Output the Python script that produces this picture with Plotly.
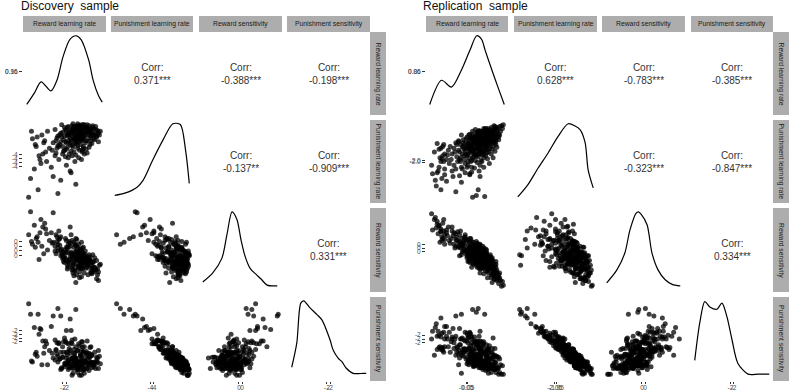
import plotly.graph_objects as go

W, H = 790, 392

variables = ["Reward learning rate", "Punishment learning rate",
             "Reward sensitivity", "Punishment sensitivity"]

# ---------------- Discovery sample ----------------
disc_rlr = [-3.8, -3.5, -3.3, -3.2, -3.6, -3.1, -3.4, -3.0, -3.7, -3.25,
            -2.9, -3.35, -3.9, -3.05, -2.8, -1.4, -1.2, -0.8, -1.7, -2.1,
            -1.0, -1.5, -0.5, -1.3, -1.9, -1.1, -1.6, -0.9, -2.4, -1.35,
            -1.25, -0.7, -1.8, -1.45, -0.3, -2.2, -1.05, -1.55, -0.95, -1.65,
            -1.15, -2.6, -0.6, -1.3, -1.75, -0.85, -1.4, -2.0, -1.2, -0.4,
            -1.5, -1.1, -1.85, -0.75, -1.35, -2.3, -1.0, -1.6, -0.65, -1.25,
            -1.95, -1.45, -0.55, -1.7, -1.15, -2.5, -0.2, -1.3, -1.55, -0.9,
            -2.6, -2.05, -1.05, -0.8, -1.6, -1.2, -1.9, -0.45, -1.35, -2.15,
            -1.0, -1.5, -0.7, -1.75, -1.25, -2.7, -1.1, -0.35, -1.45, -1.65,
            -0.95, -2.25, -2.35, -0.6, -1.55, -1.85, -0.85, -1.2, -2.45, -1.0,
            -1.4, -0.5, -1.7, -1.15, -2.0, -0.25, -1.35, -0.75, -1.6, -1.05,
            -1.9, -0.65, -2.2, -1.25, -2.35, -0.9, -1.45, -1.1, -0.15, -1.8,
            -1.3, -0.6, -1.85, -1.0, -2.25, -0.35, -1.5, -1.15, -2.05, -0.8,
            -1.7, -0.45, -1.4, -2.4, -0.95, -1.25, -1.95, -0.7, -1.55, -1.1,
            -2.15, -0.55, -1.35, -1.8, -0.25, -1.6, -1.05, -2.3, -0.85, -1.45,
            -3.45, -3.15, -3.55, -2.95, -3.75, -1.2, -0.65, -1.75, -1.05, -2.5,
            -0.4, -1.3, -1.9, -0.75, -1.5, -2.1, -0.95, -1.65, -0.2, -1.4,
            -2.2, -0.5, -1.15, -1.8, -1.0, -2.65, -0.3, -1.55, -1.25, -2.0,
            -0.7, -1.45, -2.35, -0.9, -1.6, -1.1, -0.55, -1.95, -1.3, -0.8,
            -1.7, -2.45, -0.45, -1.2, -1.85, -1.0, -0.1, -1.35, -2.1, -0.6]
disc_plr = [-4.9, -3.2, -3.9, -2.6, -4.4, -3.0, -5.5, -3.5, -2.8, -4.1,
            -2.4, -3.7, -5.9, -2.9, -3.3, -2.8, -2.5, -2.3, -3.1, -3.6,
            -2.2, -2.9, -2.6, -2.4, -4.2, -2.7, -2.1, -3.0, -3.3, -2.6,
            -3.8, -2.45, -2.9, -2.2, -2.7, -2.5, -3.4, -2.35, -2.05, -4.6,
            -2.75, -3.0, -2.3, -3.15, -2.6, -2.9, -5.2, -2.65, -2.1, -2.55,
            -3.5, -2.85, -3.25, -2.4, -2.15, -3.9, -2.7, -2.5, -3.1, -2.95,
            -2.3, -4.0, -2.2, -2.75, -2.55, -3.7, -2.45, -3.3, -2.0, -2.65,
            -4.8, -2.85, -2.3, -3.55, -2.6, -2.15, -3.0, -2.8, -2.4, -2.7,
            -3.2, -2.5, -2.1, -3.6, -2.65, -4.3, -2.9, -2.3, -2.75, -3.45,
            -2.5, -3.1, -5.7, -2.65, -2.25, -2.55, -3.35, -2.35, -2.9, -2.05,
            -3.05, -2.45, -4.5, -2.6, -3.4, -2.55, -2.95, -2.25, -3.7, -2.8,
            -2.4, -2.75, -5.0, -2.2, -3.15, -2.5, -2.7, -3.9, -2.6, -2.15,
            -2.35, -2.9, -2.2, -3.3, -2.6, -2.15, -2.8, -2.45, -3.45, -2.05,
            -3.0, -2.6, -2.25, -2.75, -3.6, -2.1, -2.95, -2.5, -3.25, -2.35,
            -2.05, -3.05, -2.7, -3.8, -2.35, -2.3, -2.8, -3.2, -2.2, -3.05,
            -2.7, -3.6, -3.1, -4.0, -2.4, -2.6, -2.4, -2.45, -3.5, -2.3,
            -2.85, -2.0, -3.35, -2.6, -2.15, -2.45, -2.3, -2.85, -2.95, -3.65,
            -2.95, -2.1, -3.1, -2.55, -2.45, -3.4, -2.65, -2.4, -2.85, -2.2,
            -3.25, -2.55, -2.65, -2.2, -3.15, -2.05, -2.55, -3.75, -2.75, -2.9,
            -2.35, -3.55, -2.25, -3.4, -2.65, -2.7, -2.4, -2.1, -3.2, -2.35]
disc_rs = [2.0, 0.6, 0.9, 0.2, 1.3, -0.2, 0.4, 1.1, 0.3, 1.6,
           0.0, -0.5, 0.8, 1.4, 0.5, -0.1, -0.6, -0.9, 0.2, -0.3,
           -0.7, -0.4, -1.1, 0.1, 0.5, -0.8, -0.2, -0.5, 0.7, -1.3,
           -0.3, -0.6, -0.9, 0.3, -1.5, 0.0, -0.4, -1.0, -0.2, 0.8,
           -0.7, 0.4, -1.2, -0.1, -0.5, -0.95, 0.6, -0.35, -0.75, -0.4,
           0.15, -1.4, 0.1, -0.8, -0.55, 1.0, -0.25, -1.05, -0.6, -0.15,
           -0.45, -0.2, -1.25, 0.35, -0.65, 0.2, -1.6, -0.85, -0.3, -0.05,
           1.95, -0.6, -0.95, -0.35, 0.5, -1.15, -0.15, -0.9, -0.45, 0.05,
           -0.7, -1.35, -0.5, 0.45, -0.55, 0.9, -0.3, -1.0, -0.75, -0.1,
           -1.2, 0.6, 0.3, -0.6, -0.25, -0.8, -0.45, 0.0, -0.2, -0.85,
           -1.7, -0.25, 1.2, -0.4, -0.65, -1.3, 0.55, -0.7, -0.35, -1.0,
           0.15, -0.55, 0.7, -0.9, -0.05, -0.35, -1.1, 0.4, -0.8, -0.6,
           -0.45, -0.85, -0.1, -0.55, 0.25, -1.05, -0.65, 0.05, -0.4, -0.75,
           -0.3, -1.15, -0.05, 0.45, -0.5, -0.95, 0.0, -0.25, -1.2, -0.6,
           -0.2, -0.7, 0.2, 0.3, -1.0, -0.85, -0.15, 0.55, -0.4, -0.5,
           0.7, 1.2, 0.15, 0.85, 0.45, -1.45, -0.35, -0.7, 0.1, -0.05,
           -0.9, -0.25, -0.55, -1.3, 0.4, -0.45, -0.6, -0.2, -1.15, 0.25,
           -0.3, -0.65, -0.95, 0.15, -0.4, 0.35, -0.55, -0.8, 0.3, -0.15,
           -0.45, -1.05, 0.1, -0.3, -0.6, -0.05, -0.95, 0.6, -0.35, -0.7,
           -0.5, 0.8, -0.6, -0.2, -1.0, 0.15, -0.75, -0.4, -0.1, -1.1]
disc_ps = [-0.7, -2.7, -1.45, -3.35, -1.4, -2.75, -0.7, -2.1, -3.2, -1.5,
           -3.35, -1.75, -0.15, -2.4, -2.6, -3.0, -3.4, -3.25, -2.6, -2.4,
           -3.4, -3.0, -3.25, -3.75, -1.55, -2.6, -3.9, -3.15, -2.2, -3.3,
           -2.25, -3.4, -3.1, -3.25, -2.95, -3.6, -2.15, -3.55, -3.6, -1.55,
           -2.8, -3.0, -3.2, -2.6, -3.45, -2.65, -0.45, -3.3, -3.9, -2.7,
           -2.55, -2.95, -2.7, -3.0, -3.6, -2.25, -3.15, -3.0, -2.45, -3.2,
           -3.35, -2.0, -3.5, -3.3, -2.9, -2.05, -3.55, -2.6, -3.8, -2.9,
           -0.8, -2.7, -3.65, -2.1, -3.5, -3.35, -2.7, -3.25, -3.45, -3.5,
           -2.7, -2.95, -3.65, -2.5, -3.25, -1.35, -3.1, -3.3, -3.2, -2.2,
           -3.15, -3.05, -0.4, -2.8, -3.4, -3.3, -2.75, -3.45, -2.6, -3.55,
           -3.0, -3.3, -0.95, -3.35, -1.95, -3.2, -3.3, -3.3, -2.05, -3.2,
           -3.0, -2.95, -0.8, -3.45, -2.9, -3.15, -3.2, -2.15, -2.9, -3.6,
           -3.55, -2.4, -3.3, -2.65, -3.05, -3.55, -2.75, -3.6, -2.15, -3.55,
           -2.75, -3.45, -3.35, -2.8, -2.4, -3.4, -3.25, -2.95, -3.0, -3.15,
           -3.55, -2.85, -3.1, -2.25, -3.0, -3.4, -3.35, -2.2, -3.55, -2.75,
           -2.9, -2.1, -2.8, -2.25, -3.15, -3.2, -3.2, -3.5, -2.4, -3.1,
           -3.2, -3.6, -2.2, -3.35, -3.2, -2.95, -3.8, -3.05, -2.6, -2.4,
           -2.7, -3.35, -2.85, -3.15, -3.3, -2.75, -3.15, -3.05, -3.2, -3.45,
           -2.75, -2.95, -3.2, -3.15, -2.25, -3.9, -2.85, -2.1, -3.45, -2.75,
           -3.2, -2.55, -3.35, -2.35, -2.85, -3.2, -3.3, -3.35, -2.95, -3.25]

disc_corr = ["0.371***", "-0.388***", "-0.198***", "-0.137**", "-0.909***", "0.331***"]

# density curves (diagonal), relative height
disc_dens_rlr_x = [-4.0, -3.6, -3.24, -2.72, -2.4, -2.08, -1.72, -1.4, -1.12, -0.72, -0.48, -0.2, 0.0]
disc_dens_rlr_y = [0.09, 0.24, 0.39, 0.27, 0.41, 0.72, 0.95, 1.0, 0.95, 0.68, 0.41, 0.21, 0.12]
disc_dens_plr_x = [-6.0, -5.46, -4.8, -4.48, -3.96, -3.4, -2.88, -2.48, -2.2, -2.0]
disc_dens_plr_y = [0.05, 0.08, 0.16, 0.25, 0.52, 0.79, 1.0, 0.99, 0.65, 0.21]
disc_dens_rs_x = [-2.0, -1.47, -0.99, -0.72, -0.45, -0.19, 0.03, 0.24, 0.51, 0.83, 1.09, 1.41, 1.95]
disc_dens_rs_y = [0.08, 0.2, 0.39, 0.7, 1.0, 0.9, 0.63, 0.42, 0.26, 0.18, 0.12, 0.04, 0.03]
disc_dens_ps_x = [-3.95, -3.68, -3.47, -3.31, -2.99, -2.61, -2.35, -1.92, -1.76, -1.49, -1.28,
                  -1.07, -0.69, -0.16, 0.0]
disc_dens_ps_y = [0.13, 0.45, 0.97, 1.0, 0.91, 0.82, 0.75, 0.49, 0.36, 0.25, 0.2, 0.12, 0.05, 0.05, 0.05]

# ---------------- Replication sample ----------------
rep_rlr = [-1.4, -1.2, -1.6, -1.3, -1.5, -1.1, -1.75, -1.35, -1.0, -1.45,
           -1.9, -1.25, -1.55, -0.95, -1.3, -1.65, -1.2, -1.4, -0.85, -0.7,
           -0.6, -0.8, -0.55, -0.75, -0.65, -0.5, -0.9, -0.6, -0.45, -0.4,
           -0.35, -0.3, -0.25, -0.2, -0.15, -0.1, -0.05, -0.45, -0.35, -0.2,
           -0.1, -0.3, -0.05, -0.4, -0.15, -0.25, 0.0, 0.05, 0.1, 0.15,
           0.2, 0.25, 0.3, 0.35, 0.4, 0.0, 0.1, 0.2, 0.3, 0.05,
           0.15, 0.25, 0.35, 0.4, 0.1, 0.2, 0.3, 0.0, 0.25, 0.35,
           0.15, 0.05, 0.4, 0.45, 0.5, 0.55, 0.6, 0.65, 0.7, 0.75,
           0.8, 0.45, 0.5, 0.55, 0.6, 0.65, 0.7, 0.75, 0.8, 0.45,
           0.5, 0.55, 0.6, 0.65, 0.7, 0.75, 0.8, 0.5, 0.55, 0.6,
           0.65, 0.7, 0.75, 0.45, 0.6, 0.85, 0.9, 0.95, 1.0, 1.05,
           1.1, 1.15, 1.2, 0.85, 0.9, 0.95, 1.0, 1.05, 1.1, 1.15,
           1.2, 0.85, 0.9, 0.95, 1.0, 1.05, 1.1, 1.15, 1.2, 0.9,
           1.0, 1.1, 0.95, 1.25, 1.3, 1.35, 1.4, 1.45, 1.5, 1.55,
           1.6, 1.25, 1.3, 1.35, 1.4, 1.45, 1.5, 1.55, 1.6, 1.3,
           1.4, 1.5, 1.25, 1.45, 1.35, 1.65, 1.7, 1.75, 1.8, 1.85,
           1.7, 1.9, 1.95,
           0.55, 0.35, 0.9, -0.2, 1.15, 0.7, 0.15, 1.4, 0.6, -0.55,
           1.0, 0.25, 0.8, -0.1, 1.25, 0.45, 1.6, 0.05, 0.7, -0.7,
           0.95, 0.3, 1.1, 0.5, -0.3, 0.65, 1.35, 0.2, 0.85, 1.5,
           -1.5, -1.2, -1.7, -1.05, -1.4, 0.4, 0.75, 1.05, 0.1, 0.6,
           1.2, -0.4, 0.9, 0.35, 1.7, 0.55, -0.15, 0.8, 1.3, 0.0,
           0.65, 1.45, 0.25, -0.6, 1.0, 0.45, 1.55, 0.15, 0.7, 1.1,
           -0.25, 0.5, 0.95, 1.25, 0.3, 0.75, 1.6, -0.8, 0.6, 1.15,
           0.2, 0.85, 1.35, 0.4, 1.0, -0.05, 0.65, 1.5, 0.55, 1.2,
           -1.35, -1.6, -1.1, -1.85, -1.25, 0.9, 0.3, 1.4, 0.7, 0.1,
           1.05, 0.5, 1.75, 0.35, 0.8, -0.45, 1.3, 0.6, 0.95, 0.25,
           1.15, 0.45, 0.75, -0.35, 1.4, 0.55, 0.05, 1.0, 0.65, 1.2,
           0.85, 0.15, 1.55, 0.4, 0.9, -0.1, 1.1, 0.7, 1.3, 0.25]
rep_plr = [-2.0, -1.6, -2.6, -1.2, -2.3, -1.9, -1.5, -2.9, -1.4, -1.8,
           -2.2, -1.1, -2.5, -2.1, -1.7, -3.3, -2.7, -1.3, -1.9, -1.3,
           -2.4, -1.6, -1.1, -2.8, -1.5, -2.0, -1.2, -3.6, -1.4, -1.9,
           -1.1, -2.3, -1.6, -1.0, -1.7, -2.6, -1.3, -0.9, -1.8, -1.2,
           -2.1, -3.1, -0.8, -1.5, -1.35, -2.4, -1.2, -1.6, -0.9, -1.4,
           -2.0, -1.1, -0.7, -1.5, -1.0, -2.3, -1.3, -0.8, -1.8, -1.05,
           -2.7, -1.25, -0.95, -1.6, -0.6, -1.45, -3.9, -1.7, -0.75, -1.35,
           -1.15, -2.0, -0.85, -1.1, -0.7, -1.3, -0.9, -1.5, -0.6, -1.0,
           -1.2, -0.8, -1.7, -0.5, -1.15, -0.85, -1.4, -0.65, -0.95, -1.95,
           -0.75, -1.05, -0.4, -1.25, -0.9, -1.55, -0.55, -3.8, -0.95, -1.6,
           -0.7, -1.1, -0.8, -1.35, -3.5, -0.8, -1.1, -0.6, -1.3, -0.5,
           -0.9, -0.7, -1.0, -1.45, -0.45, -0.85, -0.65, -1.2, -0.35, -1.05,
           -0.55, -0.95, -1.6, -0.3, -0.9, -0.75, -1.35, -0.45, -0.8, -0.6,
           -1.05, -0.25, -3.85, -0.6, -0.9, -0.4, -0.75, -0.3, -1.0, -0.5,
           -0.2, -1.15, -0.45, -0.85, -0.35, -0.65, -0.15, -0.8, -0.4, -0.55,
           -1.2, -0.25, -0.7, -0.1, -0.95, -0.3, -0.55, -0.15, -0.4, -0.1,
           -0.7, -0.25, -0.05,
           -0.45, -1.75, -0.95, -0.85, -1.5, -2.2, -0.55, -1.0, -1.3, -1.75,
           -0.35, -2.55, -1.65, -1.45, -0.75, -0.3, -1.25, -2.2, -0.4, -2.2,
           -1.4, -0.55, -1.85, -1.0, -0.6, -2.5, -0.6, -1.55, -0.7, -0.55,
           -1.35, -2.4, -3.0, -1.65, -3.5, -1.2, -1.95, -0.9, -1.0, -0.65,
           -1.35, -2.75, -0.25, -0.9, -0.85, -2.05, -1.9, -0.5, -1.6, -0.7,
           -1.05, -0.9, -1.95, -1.0, -1.7, -0.65, -1.1, -1.35, -2.8, -0.45,
           -1.25, -1.5, -1.2, -0.3, -1.05, -0.8, -0.7, -2.5, -1.75, -1.15,
           -0.75, -1.45, -1.35, -2.35, -0.6, -1.6, -0.35, -1.45, -1.15, -2.1,
           -1.85, -1.05, -3.05, -2.65, -2.0, -2.3, -0.4, -0.5, -1.1, -1.8,
           -1.55, -0.85, -0.6, -1.4, -2.0, -0.95, -0.75, -0.5, -0.7, -2.3,
           -0.35, -1.65, -1.25, -2.0, -1.8, -0.95, -1.15, -0.25, -1.6, -0.95,
           -0.4, -2.65, -0.9, -0.7, -1.8, -1.05, -0.65, -1.4, -0.2, -1.3]
rep_rs = [1.1, 0.8, 1.5, 0.6, 1.3, 0.9, 1.6, 0.7, 1.2, 0.4,
          1.9, 1.0, 0.85, 0.5, 1.4, 1.15, 0.3, 0.95, 0.6, 0.9,
          0.2, 1.2, 0.5, 0.75, 0.1, 0.95, 0.35, 0.55, 0.4, 0.8,
          0.1, 0.6, -0.1, 0.45, 0.25, 0.7, -0.2, 0.15, 1.0, -0.05,
          0.5, 0.3, 0.0, -0.3, 0.65, 0.2, -0.1, 0.3, -0.4, 0.15,
          -0.2, 0.45, -0.5, -0.05, 0.2, 0.55, -0.3, 0.1, -0.15, -0.6,
          0.35, -0.35, 0.05, -0.45, -0.1, 0.6, -0.25, -0.4, -0.2, 0.25,
          -0.65, 0.0, -0.3, -0.4, -0.2, -0.6, 0.0, -0.35, -0.7, -0.15,
          -0.5, -0.1, -0.55, -0.25, -0.8, 0.15, -0.45, -0.9, -0.3, -0.05,
          -0.65, 0.25, -0.4, -0.2, -0.6, 0.0, -0.75, -0.3, -0.45, -0.1,
          -0.95, 0.3, -0.5, -0.7, 0.1, -0.6, -0.3, -0.9, -0.45, -0.7,
          -1.0, -0.35, -0.8, -0.2, -0.75, -0.5, -1.1, -0.25, -0.6, -1.2,
          -0.4, -0.95, -0.55, -0.3, -0.85, -0.15, -0.7, -1.05, -0.55, -0.4,
          0.05, -0.9, -0.8, -1.0, -0.7, -1.3, -0.85, -1.1, -1.4, -0.9,
          -1.2, -0.6, -1.45, -0.5, -1.0, -1.5, -0.8, -1.25, -1.6, -0.95,
          -1.15, -1.35, -0.35, -1.05, -1.7, -1.4, -1.75, -1.2, -1.6, -1.9,
          -1.5, -1.65, -1.85,
          -0.15, -0.55, -0.05, 0.35, -0.95, -0.35, 0.15, -1.2, 0.3, 0.65,
          -0.55, -0.05, -0.85, 0.8, -0.25, -0.6, -1.05, 0.1, -1.0, 0.3,
          -0.15, -0.7, -0.45, 0.45, -0.25, -0.55, -0.75, -0.4, 0.2, -1.55,
          1.25, 0.55, 1.7, 0.75, 1.0, -0.15, -0.7, 0.0, -0.55, -0.45,
          -0.35, 0.45, -1.25, 0.4, -1.3, -0.9, 0.05, -0.2, -0.5, -0.3,
          0.1, -0.95, -0.25, 0.85, -0.65, -0.1, -0.75, 0.6, 0.25, -1.45,
          0.2, -0.8, -0.35, -0.9, 0.3, -0.1, -1.15, 1.0, -0.3, -0.6,
          -0.15, -0.95, -0.4, 0.05, -0.15, 0.55, -0.65, -1.1, 0.35, -0.85,
          0.5, 1.35, 1.05, 1.05, 1.6, -0.6, -0.35, -0.6, -1.2, 0.5,
          -0.2, -0.25, -1.45, -0.75, 0.05, 0.2, -1.3, 0.15, -0.55, -0.9,
          -0.7, 0.2, -0.8, 0.35, -0.85, -0.5, -0.15, -0.3, -0.2, -1.0,
          -0.4, -0.3, -0.6, -0.45, 0.1, -0.05, -1.1, -0.5, -0.55, 0.0]
rep_ps = [-1.9, -2.4, -1.85, -2.6, -1.8, -1.85, -2.85, -1.7, -2.4, -2.4,
          -2.0, -2.7, -1.6, -1.65, -2.45, -1.2, -1.35, -2.55, -2.15, -2.5,
          -1.85, -2.0, -2.65, -1.45, -2.0, -2.45, -2.7, -0.8, -2.6, -2.3,
          -2.75, -2.0, -2.55, -2.7, -2.5, -1.65, -2.7, -3.35, -2.0, -2.65,
          -2.1, -0.7, -3.05, -3.0, -2.55, -1.95, -2.95, -1.95, -3.1, -2.8,
          -1.75, -2.95, -3.2, -2.55, -3.4, -1.7, -2.45, -2.9, -2.55, -3.2,
          -1.65, -2.7, -3.4, -2.1, -3.35, -2.65, -0.45, -2.1, -2.95, -2.85,
          -2.85, -2.2, -2.85, -3.05, -3.1, -2.3, -3.35, -2.4, -3.2, -3.4,
          -3.15, -3.0, -2.5, -3.25, -2.8, -3.35, -2.5, -3.0, -3.25, -2.15,
          -3.15, -3.2, -3.35, -3.15, -2.8, -2.6, -3.4, -0.6, -3.1, -2.15,
          -3.5, -2.55, -3.1, -2.9, -0.4, -3.25, -2.5, -3.25, -3.05, -3.25,
          -2.8, -3.4, -3.3, -2.35, -3.2, -3.35, -3.3, -2.95, -3.45, -2.55,
          -3.3, -3.25, -2.7, -3.4, -3.15, -2.85, -2.55, -3.8, -3.55, -3.2,
          -3.2, -3.55, -0.7, -3.3, -3.5, -3.4, -2.85, -3.6, -2.85, -3.75,
          -3.5, -3.0, -3.45, -3.45, -3.45, -2.9, -3.6, -3.4, -3.55, -3.75,
          -3.05, -3.55, -3.4, -3.55, -2.7, -3.55, -3.85, -3.75, -3.35, -3.85,
          -3.5, -3.4, -3.85,
          -3.3, -2.3, -3.5, -2.9, -2.5, -2.1, -3.25, -3.4, -2.3, -2.4,
          -3.45, -1.9, -2.25, -2.6, -3.05, -3.2, -2.9, -1.8, -3.45, -2.2,
          -2.75, -3.2, -2.55, -2.8, -3.8, -1.85, -3.05, -2.35, -3.6, -3.25,
          -2.45, -2.0, -1.4, -2.0, -0.9, -2.7, -2.5, -2.9, -3.15, -3.1,
          -3.0, -1.45, -3.5, -3.45, -2.95, -2.1, -2.05, -3.15, -2.75, -3.3,
          -2.55, -3.25, -2.2, -2.85, -2.65, -3.05, -3.2, -2.5, -1.6, -3.2,
          -2.85, -2.3, -3.2, -3.5, -2.75, -3.5, -2.95, -1.9, -2.4, -2.7,
          -3.05, -2.8, -2.5, -1.9, -3.15, -2.55, -3.3, -2.5, -3.05, -2.35,
          -2.5, -2.55, -1.35, -1.6, -1.65, -2.15, -3.3, -3.4, -2.9, -1.9,
          -2.3, -3.4, -3.05, -3.1, -2.15, -2.8, -3.5, -3.2, -3.4, -2.0,
          -3.2, -2.2, -2.9, -2.3, -1.95, -3.2, -2.55, -3.65, -2.85, -3.3,
          -3.4, -1.7, -3.5, -3.15, -2.25, -2.55, -3.6, -2.7, -3.55, -2.65]

rep_corr = ["0.628***", "-0.783***", "-0.385***", "-0.323***", "-0.847***", "0.334***"]

rep_dens_rlr_x = [-2.0, -1.37, -0.83, -0.29, 0.16, 0.52, 0.79, 0.97, 1.33, 1.69, 2.0]
rep_dens_rlr_y = [0.09, 0.41, 0.32, 0.55, 0.81, 1.0, 0.95, 0.81, 0.55, 0.30, 0.09]
rep_dens_plr_x = [-4.0, -3.47, -2.93, -2.4, -1.87, -1.33, -0.96, -0.69, -0.43, -0.27, 0.0]
rep_dens_plr_y = [0.03, 0.19, 0.41, 0.61, 0.83, 1.0, 0.97, 0.92, 0.75, 0.39, 0.15]
rep_dens_rs_x = [-1.95, -1.41, -0.99, -0.72, -0.4, -0.27, -0.13, 0.19, 0.45, 0.77, 1.15, 1.52, 1.95]
rep_dens_rs_y = [0.07, 0.24, 0.46, 0.76, 0.98, 1.0, 0.97, 0.83, 0.46, 0.24, 0.11, 0.05, 0.03]
rep_dens_ps_x = [-4.0, -3.73, -3.46, -3.19, -2.81, -2.54, -2.27, -2.0, -1.68, -1.14, -0.6, 0.0]
rep_dens_ps_y = [0.22, 0.71, 0.99, 0.92, 0.89, 0.97, 0.79, 0.49, 0.18, 0.04, 0.04, 0.04]

# axis scales (data range + 5% expansion) and tick labels
disc_ranges = [[-4.2, 0.2], [-6.2, -1.8], [-2.2, 2.2], [-4.2, 0.2]]
rep_ranges = [[-2.2, 2.2], [-4.2, 0.2], [-2.2, 2.2], [-4.2, 0.2]]
dens_range = [-0.05, 1.05]

disc_left_ticks = [([0.52, 0.53], ["0.16", "0.96"]),
                   ([-3.65, -3.85, -4.05, -4.25], ["-4", "-4", "-4", "-4"]),
                   ([0.45, 0.2, -0.05, -0.3], ["0", "0", "0", "0"]),
                   ([-1.55, -1.75, -1.95, -2.15], ["-2", "-2", "-2", "-2"])]
disc_bottom_ticks = [([-2.08, -1.92], ["-2", "-2"]),
                     ([-4.08, -3.92], ["-4", "-4"]),
                     ([-0.08, 0.08], ["0", "0"]),
                     ([-2.08, -1.92], ["-2", "-2"])]
rep_left_ticks = [([0.52, 0.53], ["0.06", "0.86"]),
                  ([-2.03, -1.97], ["-2.0", "-2.0"]),
                  ([0.3, 0.1, -0.1], ["0", "0", "0"]),
                  ([-1.8, -2.0, -2.2], ["-2", "-2", "-2"])]
rep_bottom_ticks = [([-0.05, 0.05], ["-0.05", "0.05"]),
                    ([-2.05, -1.95], ["-2.05", "-1.95"]),
                    ([-0.08, 0.08], ["0", "0"]),
                    ([-2.08, -1.92], ["-2", "-2"])]

samples = [
    dict(title="Discovery  sample", title_px=(23, 116),
         cols=[(23, 106), (111, 193), (199, 282), (287, 370)], strip_x=(370, 386),
         data=[disc_rlr, disc_plr, disc_rs, disc_ps], ranges=disc_ranges,
         dens=[(disc_dens_rlr_x, disc_dens_rlr_y), (disc_dens_plr_x, disc_dens_plr_y),
               (disc_dens_rs_x, disc_dens_rs_y), (disc_dens_ps_x, disc_dens_ps_y)],
         corr=disc_corr, left=disc_left_ticks, bottom=disc_bottom_ticks),
    dict(title="Replication  sample", title_px=(426, 525),
         cols=[(426, 508), (514, 597), (602, 685), (691, 773)], strip_x=(773, 789),
         data=[rep_rlr, rep_plr, rep_rs, rep_ps], ranges=rep_ranges,
         dens=[(rep_dens_rlr_x, rep_dens_rlr_y), (rep_dens_plr_x, rep_dens_plr_y),
               (rep_dens_rs_x, rep_dens_rs_y), (rep_dens_ps_x, rep_dens_ps_y)],
         corr=rep_corr, left=rep_left_ticks, bottom=rep_bottom_ticks),
]
rows_px = [(32, 115), (120, 203), (208, 292), (297, 381)]
strip_y = (16, 32)
STRIP_FILL = "#ADADAD"
TICK_FONT = dict(size=6.5, color="#4D4D4D")

fig = go.Figure()
layout = dict(width=W, height=H, margin=dict(l=0, r=0, t=0, b=0, autoexpand=False),
              paper_bgcolor="white", plot_bgcolor="white", showlegend=False,
              font=dict(family="Liberation Sans, Arial, sans-serif"))
shapes, annotations = [], []


def px_x(v):
    return v / W


def px_y(v):
    return 1 - v / H


k = 0
for s in samples:
    cols = s["cols"]
    pair = 0
    for i in range(4):
        for j in range(4):
            x0, x1 = cols[j]
            y0, y1 = rows_px[i]
            if j > i:
                annotations.append(dict(
                    text="Corr:<br>" + s["corr"][pair], x=px_x((x0 + x1) / 2),
                    y=px_y((y0 + y1) / 2), xref="paper", yref="paper",
                    xanchor="center", yanchor="middle",
                    showarrow=False, align="center",
                    font=dict(size=10, color="#333333")))
                pair += 1
                continue
            k += 1
            xname = "xaxis" if k == 1 else f"xaxis{k}"
            yname = "yaxis" if k == 1 else f"yaxis{k}"
            xref = "x" if k == 1 else f"x{k}"
            yref = "y" if k == 1 else f"y{k}"
            xa = dict(domain=[px_x(x0), px_x(x1)], range=s["ranges"][j], anchor=yref,
                      showgrid=False, zeroline=False, showline=False,
                      showticklabels=False, ticks="", fixedrange=True)
            ya = dict(domain=[px_y(y1), px_y(y0)],
                      range=(dens_range if i == j else s["ranges"][i]), anchor=xref,
                      showgrid=False, zeroline=False, showline=False,
                      showticklabels=False, ticks="", fixedrange=True)
            if i == 3:
                tv, tt = s["bottom"][j]
                xa.update(ticks="outside", ticklen=2, tickwidth=1, tickcolor="#333333",
                          tickmode="array", tickvals=tv, ticktext=tt,
                          showticklabels=True, tickfont=TICK_FONT, tickangle=0,
                          ticklabelstandoff=-2)
            if j == 0:
                tv, tt = s["left"][i]
                ya.update(ticks="outside", ticklen=3, tickwidth=1, tickcolor="#333333",
                          tickmode="array", tickvals=tv, ticktext=tt,
                          showticklabels=True, tickfont=TICK_FONT)
            layout[xname] = xa
            layout[yname] = ya
            if i == j:
                dx, dy = s["dens"][i]
                fig.add_trace(go.Scatter(
                    x=dx, y=dy, mode="lines", xaxis=xref, yaxis=yref,
                    line=dict(color="black", width=1.2, shape="spline", smoothing=0.8),
                    hoverinfo="skip"))
            else:
                fig.add_trace(go.Scatter(
                    x=s["data"][j], y=s["data"][i], mode="markers",
                    xaxis=xref, yaxis=yref, hoverinfo="skip",
                    marker=dict(size=5, color="rgba(0,0,0,0.75)", line=dict(width=0))))

    # top strips
    for j in range(4):
        x0, x1 = cols[j]
        shapes.append(dict(type="rect", xref="paper", yref="paper",
                           x0=px_x(x0), x1=px_x(x1), y0=px_y(strip_y[1]), y1=px_y(strip_y[0]),
                           fillcolor=STRIP_FILL, line=dict(width=0), layer="below"))
        annotations.append(dict(text=variables[j], x=px_x((x0 + x1) / 2),
                                y=px_y((strip_y[0] + strip_y[1]) / 2), xref="paper", yref="paper",
                                xanchor="center", yanchor="middle",
                                showarrow=False, font=dict(size=6.8, color="#1A1A1A")))
    # right strips
    sx0, sx1 = s["strip_x"]
    for i in range(4):
        y0, y1 = rows_px[i]
        shapes.append(dict(type="rect", xref="paper", yref="paper",
                           x0=px_x(sx0), x1=px_x(sx1), y0=px_y(y1), y1=px_y(y0),
                           fillcolor=STRIP_FILL, line=dict(width=0), layer="below"))
        annotations.append(dict(text=variables[i], x=px_x((sx0 + sx1) / 2),
                                y=px_y((y0 + y1) / 2), xref="paper", yref="paper",
                                xanchor="center", yanchor="middle",
                                showarrow=False, textangle=90,
                                font=dict(size=6.8, color="#1A1A1A")))
    # title
    tx0, tx1 = s["title_px"]
    annotations.append(dict(text=s["title"], x=px_x((tx0 + tx1) / 2), y=px_y(6),
                            xref="paper", yref="paper", xanchor="center", yanchor="middle",
                            showarrow=False, font=dict(size=12, color="#111111")))

layout["shapes"] = shapes
layout["annotations"] = annotations
fig.update_layout(**layout)
fig.write_html("out.html", config={"displayModeBar": False},
               post_script="document.body.style.margin='0';document.body.style.overflow='hidden';")
